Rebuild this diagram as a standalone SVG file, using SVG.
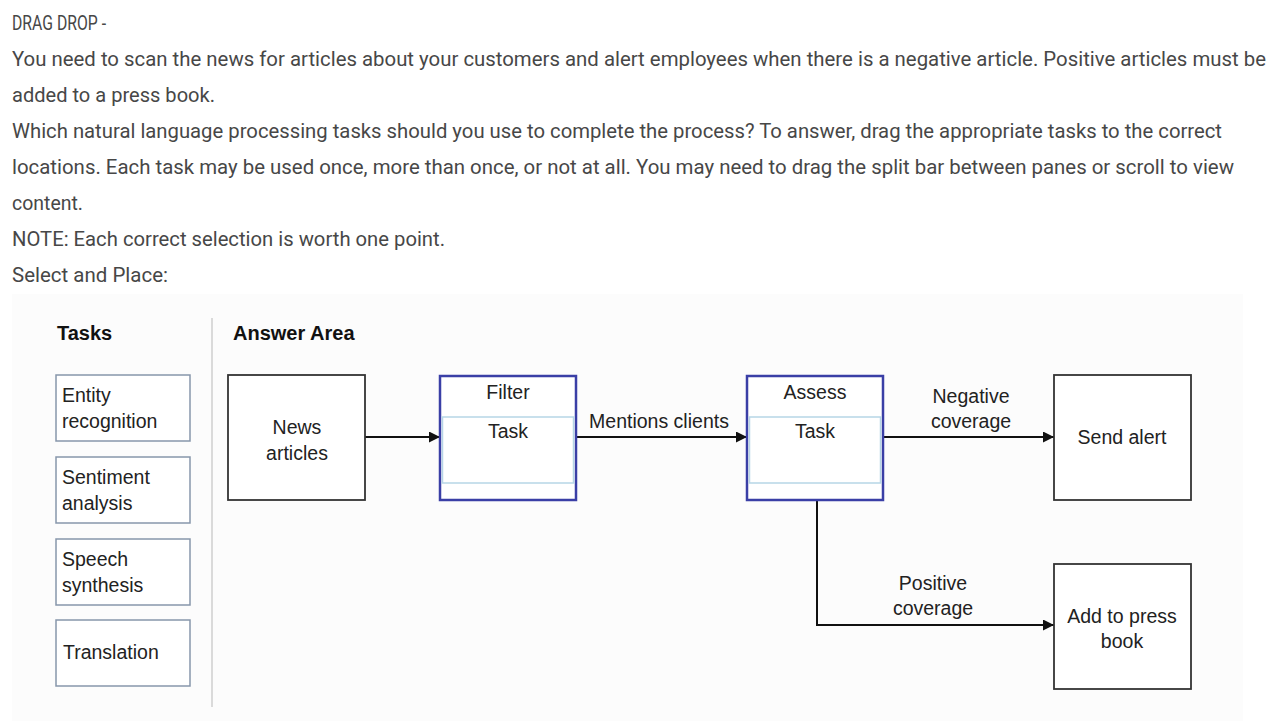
<svg xmlns="http://www.w3.org/2000/svg" width="1281" height="721" viewBox="0 0 1281 721">
<defs>
<marker id="arr" viewBox="0 0 10 10" refX="10" refY="5" markerWidth="11" markerHeight="11" markerUnits="userSpaceOnUse" orient="auto">
<path d="M0,0 L10,5 L0,10 z" fill="#111"/>
</marker>
<style>
.q{font-family:Roboto,"Liberation Sans",sans-serif;font-size:21px;fill:#474747}
.h{font-family:"Liberation Sans",Arial,sans-serif;font-size:20px;font-weight:bold;fill:#111}
.t{font-family:"Liberation Sans",Arial,sans-serif;font-size:19.5px;fill:#222}
.c{text-anchor:middle}
.task{fill:#fff;stroke:#8796ab;stroke-width:1.5}
.box{fill:#fff;stroke:#333;stroke-width:1.8}
.slot{fill:#fff;stroke:#3a3fa6;stroke-width:2.5}
.inner{stroke:#b7d6e6;stroke-width:1.5;fill:none}
.conn{stroke:#111;stroke-width:2;fill:none}
</style>
</defs>
<rect width="1281" height="721" fill="#fff"/>
<g id="question">
<text class="q" x="12" y="30" textLength="94" lengthAdjust="spacingAndGlyphs">DRAG DROP -</text>
<text class="q" x="12" y="66" textLength="1254" lengthAdjust="spacingAndGlyphs">You need to scan the news for articles about your customers and alert employees when there is a negative article. Positive articles must be</text>
<text class="q" x="12" y="102" textLength="203" lengthAdjust="spacingAndGlyphs">added to a press book.</text>
<text class="q" x="12" y="138" textLength="1210" lengthAdjust="spacingAndGlyphs">Which natural language processing tasks should you use to complete the process? To answer, drag the appropriate tasks to the correct</text>
<text class="q" x="12" y="174" textLength="1222" lengthAdjust="spacingAndGlyphs">locations. Each task may be used once, more than once, or not at all. You may need to drag the split bar between panes or scroll to view</text>
<text class="q" x="12" y="210" textLength="71" lengthAdjust="spacingAndGlyphs">content.</text>
<text class="q" x="12" y="246" textLength="433" lengthAdjust="spacingAndGlyphs">NOTE: Each correct selection is worth one point.</text>
<text class="q" x="12" y="282" textLength="156" lengthAdjust="spacingAndGlyphs">Select and Place:</text>
</g>
<rect x="12" y="294" width="1231" height="427" fill="#fcfcfc"/>
<g id="headers">
<text class="h" x="57" y="340">Tasks</text>
<text class="h" x="233" y="340">Answer Area</text>
<line x1="212" y1="318" x2="212" y2="707" stroke="#cfcfcf" stroke-width="1.5"/>
</g>
<g id="task-entity"><rect class="task" x="56" y="375" width="134" height="66"/><text class="t" x="62" y="402">Entity</text><text class="t" x="62" y="428">recognition</text></g>
<g id="task-sentiment"><rect class="task" x="56" y="457" width="134" height="66"/><text class="t" x="62" y="484">Sentiment</text><text class="t" x="62" y="510">analysis</text></g>
<g id="task-speech"><rect class="task" x="56" y="539" width="134" height="66"/><text class="t" x="62" y="566">Speech</text><text class="t" x="62" y="592">synthesis</text></g>
<g id="task-translation"><rect class="task" x="56" y="620" width="134" height="66"/><text class="t" x="63" y="659">Translation</text></g>
<g id="connectors">
<line class="conn" x1="365" y1="437" x2="440" y2="437" marker-end="url(#arr)"/>
<line class="conn" x1="576" y1="437" x2="747" y2="437" marker-end="url(#arr)"/>
<line class="conn" x1="883" y1="437" x2="1054" y2="437" marker-end="url(#arr)"/>
<polyline class="conn" points="817,500 817,625 1054,625" marker-end="url(#arr)"/>
<text class="t c" x="659" y="428">Mentions clients</text>
<text class="t c" x="971" y="403">Negative</text>
<text class="t c" x="971" y="428">coverage</text>
<text class="t c" x="933" y="590">Positive</text>
<text class="t c" x="933" y="615">coverage</text>
</g>
<g id="news"><rect class="box" x="228" y="375" width="137" height="125"/><text class="t c" x="297" y="434">News</text><text class="t c" x="297" y="460">articles</text></g>
<g id="filter"><rect class="slot" x="440" y="376" width="136" height="124"/><path class="inner" d="M441.5,417 H574.5 M441.5,483 H574.5 M442.5,417 V483 M573.5,417 V483"/><text class="t c" x="508" y="399">Filter</text><text class="t c" x="508" y="438">Task</text></g>
<g id="assess"><rect class="slot" x="747" y="376" width="136" height="124"/><path class="inner" d="M748.5,417 H881.5 M748.5,483 H881.5 M749.5,417 V483 M880.5,417 V483"/><text class="t c" x="815" y="399">Assess</text><text class="t c" x="815" y="438">Task</text></g>
<g id="send-alert"><rect class="box" x="1054" y="375" width="137" height="125"/><text class="t c" x="1122" y="444">Send alert</text></g>
<g id="press-book"><rect class="box" x="1054" y="564" width="137" height="125"/><text class="t c" x="1122" y="623">Add to press</text><text class="t c" x="1122" y="648">book</text></g>
</svg>
